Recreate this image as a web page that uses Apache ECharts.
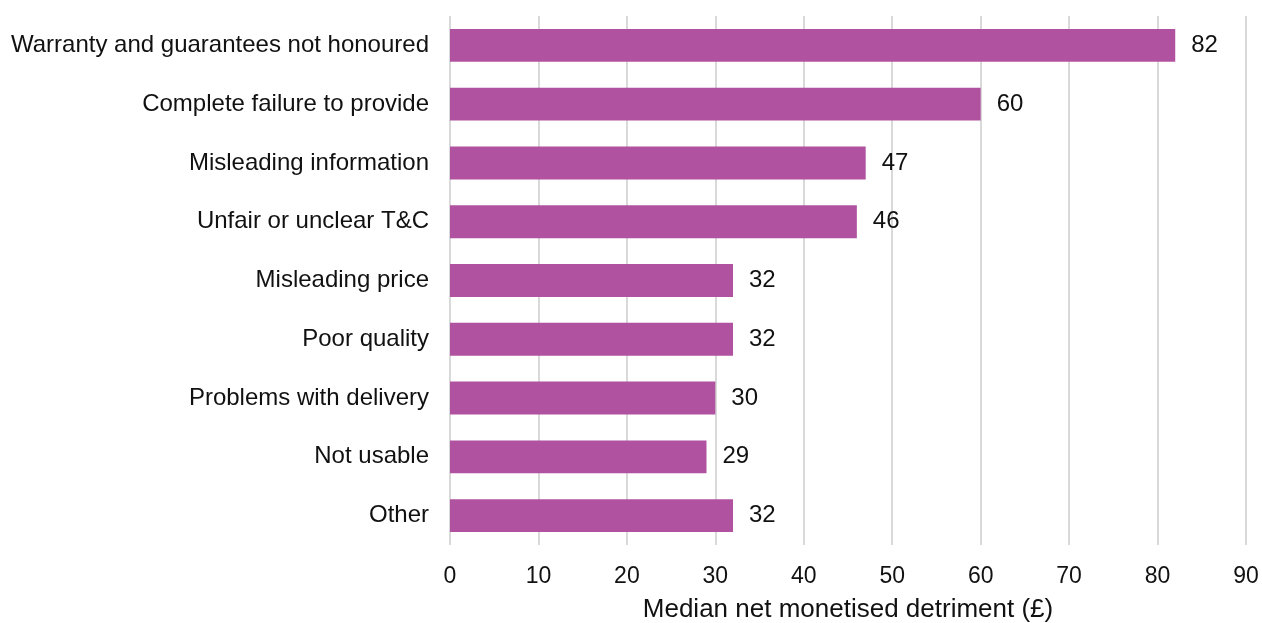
<!DOCTYPE html>
<html>
<head>
<meta charset="utf-8">
<script src="https://cdn.jsdelivr.net/npm/echarts@6/dist/echarts.min.js"></script>
<style>
  html, body { margin: 0; padding: 0; background: #fff; }
  #chart { width: 1262px; height: 623px; }
</style>
</head>
<body>
<div id="chart"></div>
<script>
// Problem types, listed top to bottom
const categories = [
  'Warranty and guarantees not honoured',
  'Complete failure to provide',
  'Misleading information',
  'Unfair or unclear T&C',
  'Misleading price',
  'Poor quality',
  'Problems with delivery',
  'Not usable',
  'Other'
];
// Median net monetised detriment (£) for each problem type
const medianDetriment = [82, 60, 47, 46, 32, 32, 30, 29, 32];
const xTicks = { min: 0, max: 90, interval: 10 };

const FONT = '"Liberation Sans", Arial, sans-serif';
const INK = '#111111';
const chart = echarts.init(document.getElementById('chart'), null, { renderer: 'canvas' });

chart.setOption({
  animation: false,
  backgroundColor: '#ffffff',
  grid: {
    left: 450, right: 16, top: 16, bottom: 78,
    containLabel: false,
    outerBoundsMode: 'none'
  },
  xAxis: {
    type: 'value',
    min: xTicks.min,
    max: xTicks.max,
    interval: xTicks.interval,
    name: 'Median net monetised detriment (£)',
    nameLocation: 'middle',
    nameGap: 52,
    nameTextStyle: { fontFamily: FONT, fontSize: 26, color: INK },
    axisLine: { show: false },
    axisTick: { show: false },
    axisLabel: { fontFamily: FONT, fontSize: 23, color: INK, margin: 20 },
    splitLine: { show: true, lineStyle: { color: '#d9d9d9', width: 2 } }
  },
  yAxis: {
    type: 'category',
    data: categories,
    inverse: true,
    axisLine: { show: false },
    axisTick: { show: false },
    axisLabel: { fontFamily: FONT, fontSize: 24, color: INK, margin: 21 },
    splitLine: { show: false }
  },
  series: [{
    type: 'bar',
    data: medianDetriment,
    barCategoryGap: '44%',
    itemStyle: { color: '#b0529f' },
    label: {
      show: true,
      position: 'right',
      distance: 16,
      fontFamily: FONT,
      fontSize: 24,
      color: INK
    }
  }]
});
</script>
</body>
</html>
